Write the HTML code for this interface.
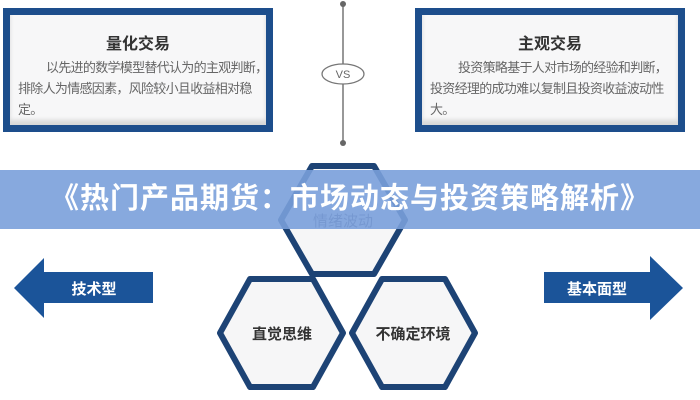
<!DOCTYPE html>
<html><head><meta charset="utf-8"><style>
body{margin:0;width:700px;height:400px;background:#fff;overflow:hidden;position:relative;font-family:"Liberation Sans","Noto Sans CJK SC",sans-serif}
.box{position:absolute;top:8px;width:256px;height:110px;border:7px solid #1d4e8c;background:#f7f7f8;box-shadow:inset 0 -5px 4px #d8d8d8}
.box h3{margin:15px 0 3px;text-align:center;font-size:16px;color:#333;font-weight:bold}
.box div{margin:0 0 0 8px;font-size:13px;line-height:21px;color:#666;letter-spacing:-0.7px;white-space:nowrap}
.banner{position:absolute;left:0;top:170px;width:700px;height:59px;background:rgba(122,160,218,0.9);color:#fff;font-weight:bold;font-size:29px;line-height:59px;text-align:center;letter-spacing:1px}
</style></head><body>
<div class="box" style="left:3px"><h3>量化交易</h3><div style="padding-left:28px">以先进的数学模型替代认为的主观判断，</div><div>排除人为情感因素，风险较小且收益相对稳</div><div>定。</div></div>
<div class="box" style="left:415px"><h3>主观交易</h3><div style="padding-left:28px">投资策略基于人对市场的经验和判断，</div><div>投资经理的成功难以复制且投资收益波动性</div><div>大。</div></div>
<svg width="700" height="400" style="position:absolute;left:0;top:0">
<line x1="343" y1="3" x2="343" y2="143" stroke="#777" stroke-width="1.5"/>
<circle cx="343" cy="4" r="3" fill="#666"/><circle cx="343" cy="143" r="3" fill="#666"/>
<ellipse cx="343" cy="74" rx="21" ry="10" fill="#fff" stroke="#777" stroke-width="1.3"/>
<text x="343" y="78" font-size="11" fill="#666" text-anchor="middle" font-family="Liberation Sans">VS</text>
<polygon points="14,288 44,258 44,272 153,272 153,303 44,303 44,318" fill="#1b5499"/>
<text x="94" y="294" font-size="15" font-weight="bold" fill="#fff" text-anchor="middle" font-family="Liberation Sans,Noto Sans CJK SC">技术型</text>
<polygon points="544,272 650,272 650,256 683,288 650,320 650,303 544,303" fill="#1b5499"/>
<text x="597" y="294" font-size="15" font-weight="bold" fill="#fff" text-anchor="middle" font-family="Liberation Sans,Noto Sans CJK SC">基本面型</text>
<g stroke="#1d4375" stroke-width="6" stroke-linejoin="round" fill="#f6f6f7">
<polygon points="312,166 374,166 405,220 374,274 312,274 281,220"/>
<polygon points="250,279 313,279 343,333 313,387 250,387 220,333"/>
<polygon points="382,279 445,279 475,333 445,387 382,387 352,333"/>
</g>
<g font-family="Liberation Sans,Noto Sans CJK SC" font-size="15" text-anchor="middle">
<text x="343" y="226" fill="#557" >情绪波动</text>
<text x="282" y="339" fill="#333" font-weight="bold">直觉思维</text>
<text x="413" y="339" fill="#333" font-weight="bold">不确定环境</text>
</g>
</svg>
<div class="banner">《热门产品期货：市场动态与投资策略解析》</div>
</body></html>
